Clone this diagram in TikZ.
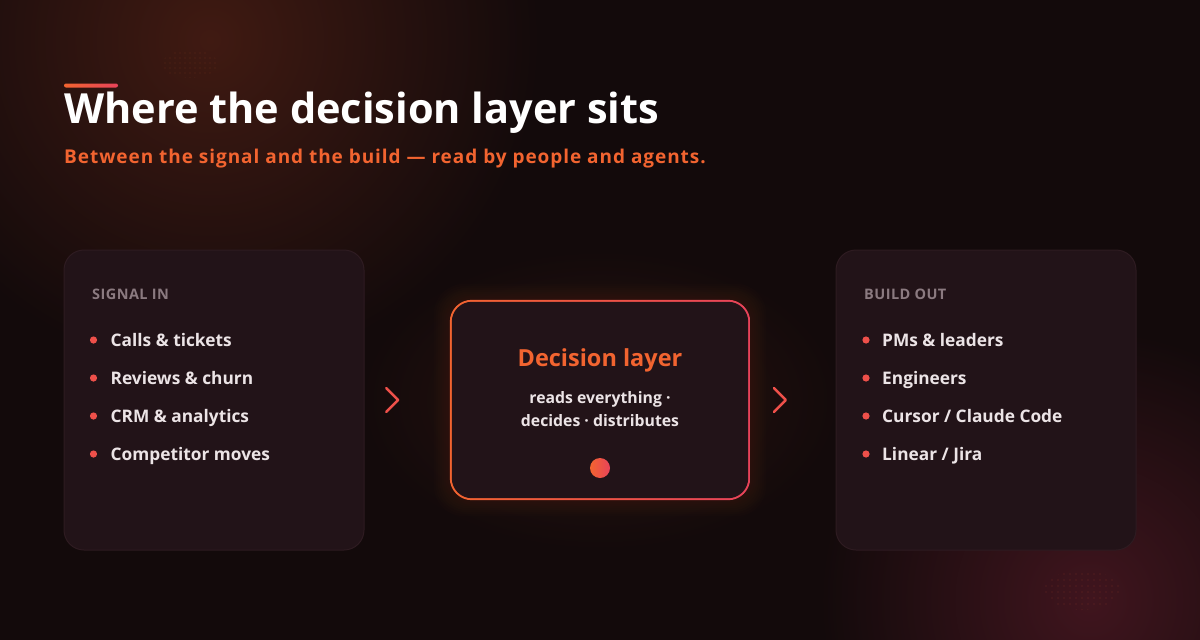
\documentclass[tikz,border=0pt]{standalone}
\usepackage{fontspec}
\setmainfont{Open Sans}
\usepackage{tikz}
\usetikzlibrary{positioning,calc,shadings}
\definecolor{bgdark}{RGB}{19,10,11}
\definecolor{glowbrown}{RGB}{64,26,18}
\definecolor{glowwine}{RGB}{64,21,30}
\definecolor{cardfill}{RGB}{34,19,24}
\definecolor{cardline}{RGB}{46,27,33}
\definecolor{accorange}{RGB}{242,100,48}
\definecolor{accpink}{RGB}{232,67,90}
\definecolor{bulletred}{RGB}{238,80,74}
\definecolor{itemtext}{RGB}{236,228,230}
\definecolor{labelgray}{RGB}{139,122,128}
\tikzstyle{card}=[rectangle, rounded corners=20pt, fill=cardfill, draw=cardline, line width=1pt, minimum width=300pt, minimum height=300pt, inner sep=0pt]
\tikzstyle{chev}=[draw=bulletred, line width=2.4pt, line cap=round, line join=round]
\tikzstyle{item}=[anchor=base west, inner sep=0pt, text=itemtext, font=\fontsize{17.3}{20}\selectfont\bfseries]
\tikzstyle{head}=[anchor=base west, inner sep=0pt, text=labelgray, font=\fontsize{14.5}{17}\selectfont\bfseries\addfontfeatures{LetterSpace=3}]

\begin{document}
\begin{tikzpicture}[x=1pt, y=-1pt]
  \useasboundingbox (0,0) rectangle (1200,640);
  % background and glows
  \begin{scope}
    \clip (0,0) rectangle (1200,640);
    \fill[bgdark] (0,0) rectangle (1200,640);
    \shade[inner color=glowbrown, outer color=bgdark] (210,40) circle (330);
    \shade[inner color=glowwine, outer color=bgdark] (1090,600) circle (270);
    \shade[inner color=accorange!10!bgdark, outer color=bgdark] (600,400) ellipse (240 and 150);
  \end{scope}
  % halftone specks
  \begin{scope}
    \clip (190,64) ellipse (28 and 14);
    \foreach \i in {160,165,...,220}
      \foreach \j in {48,53,...,80}
        \fill[accorange, opacity=0.18] (\i,\j) circle (0.6);
  \end{scope}
  \begin{scope}
    \clip (1082,590) ellipse (38 and 20);
    \foreach \i in {1040,1046,...,1124}
      \foreach \j in {568,574,...,612}
        \fill[accorange, opacity=0.25] (\i,\j) circle (0.7);
  \end{scope}

  % title block
  \shade[left color=accorange, right color=accpink, rounded corners=2pt] (64,83.5) rectangle (118,87.5);
  \node[anchor=base west, inner sep=0pt, text=white, font=\fontsize{41.5}{46}\selectfont\bfseries] (title) at (64,123.5) {Where the decision layer sits};
  \node[anchor=base west, inner sep=0pt, text=accorange, font=\fontsize{19}{22}\selectfont\bfseries\addfontfeatures{LetterSpace=5}] (subtitle) at (64,163) {Between the signal and the build --- read by people and agents.};

  % the three boxes
  \node[card] (sig) at (214,400) {};
  \node[card] (bld) at (986,400) {};
  \node[rectangle, minimum width=300pt, minimum height=200pt, inner sep=0pt] (dec) at (600,400) {};

  % glow round the decision box
  \foreach \g in {1,...,8}
    \fill[accorange, opacity=0.012, rounded corners=22pt+\g pt]
      ([shift={(-\g*2,-\g*2)}]dec.north west) rectangle ([shift={(\g*2,\g*2)}]dec.south east);
  \shade[left color=accorange, right color=accpink, rounded corners=22pt]
    (dec.north west) rectangle (dec.south east);
  \fill[cardfill, rounded corners=20pt]
    ([shift={(2,2)}]dec.north west) rectangle ([shift={(-2,-2)}]dec.south east);

  % left card
  \node[head] (sighead) at (92,299) {SIGNAL IN};
  \foreach \txt [count=\k] in {Calls \& tickets, Reviews \& churn, CRM \& analytics, Competitor moves} {
    \fill[bulletred] (93.5,302+38*\k) circle (3.6);
    \node[item] (sig\k) at (110.5,346+38*\k-38) {\txt};
  }

  % right card
  \node[head] (bldhead) at (864,299) {BUILD OUT};
  \foreach \txt [count=\k] in {PMs \& leaders, Engineers, Cursor / Claude Code, Linear / Jira} {
    \fill[bulletred] (866,302+38*\k) circle (3.6);
    \node[item] (bld\k) at (882,346+38*\k-38) {\txt};
  }

  % decision layer text
  \node[anchor=base, inner sep=0pt, text=accorange, font=\fontsize{23.5}{26}\selectfont\bfseries] (dectitle) at (600,366.5) {Decision layer};
  \node[anchor=base, inner sep=0pt, text=itemtext, font=\fontsize{15.8}{18}\selectfont\bfseries] (decline1) at (600,403) {reads everything ·};
  \node[anchor=base, inner sep=0pt, text=itemtext, font=\fontsize{15.8}{18}\selectfont\bfseries] (decline2) at (600,426.5) {decides · distributes};
  \shade[left color=accorange, right color=accpink] (600,468) circle (10);

  % chevrons between the boxes
  \coordinate (chevL) at ($(sig.east)!0.5!(dec.west)+(-9,0)$);
  \coordinate (chevR) at ($(dec.east)!0.5!(bld.west)+(-7,0)$);
  \draw[chev] (chevL) ++(-12,-12) -- (chevL) -- ++(-12,12);
  \draw[chev] (chevR) ++(-12,-12) -- (chevR) -- ++(-12,12);
\end{tikzpicture}
\end{document}
